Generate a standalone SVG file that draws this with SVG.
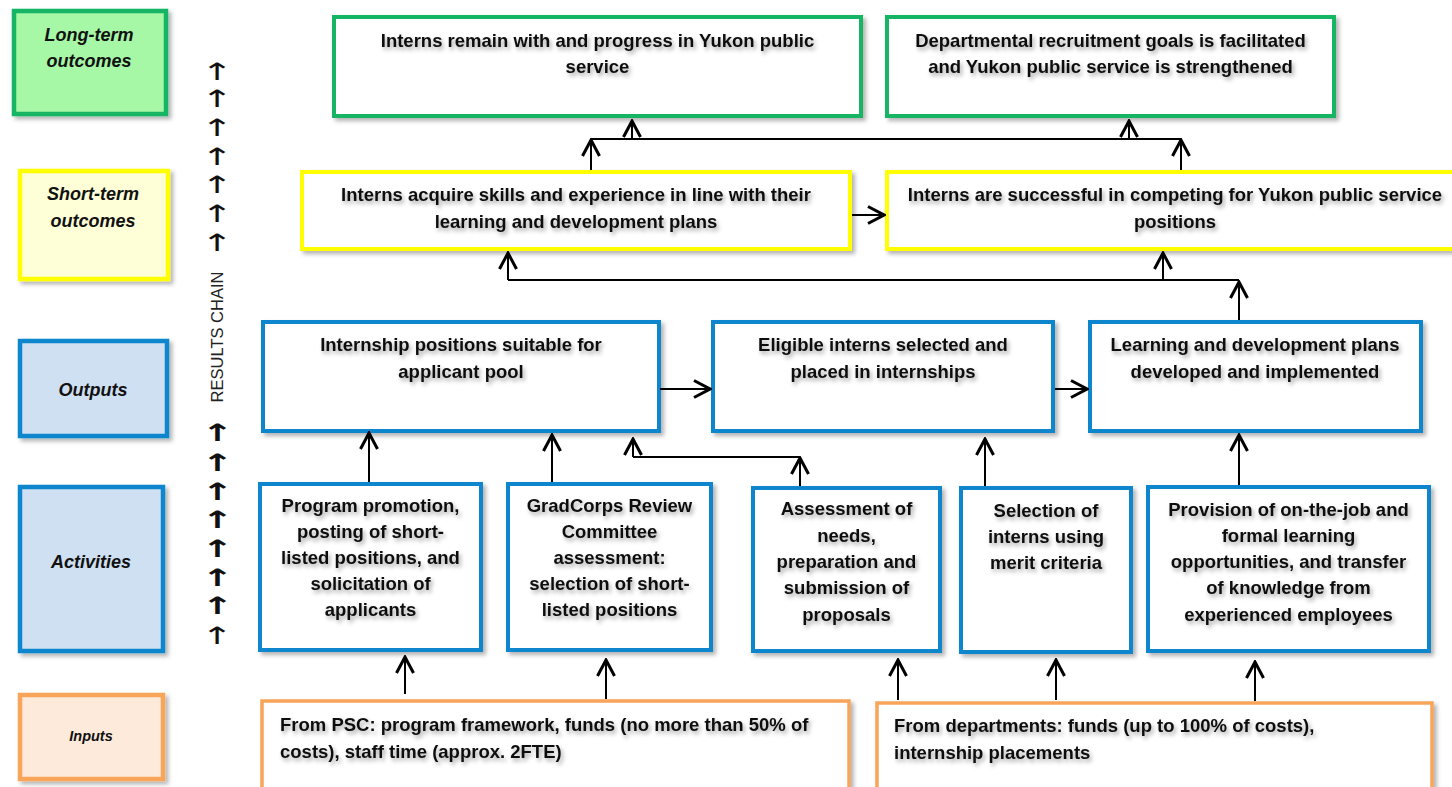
<svg xmlns="http://www.w3.org/2000/svg" width="1452" height="787" viewBox="0 0 1452 787">
<style>
.box{fill:#fff;stroke-width:4}
.g{stroke:#12b563}.y{stroke:#ffff00}.b{stroke:#0a86cd}.o{stroke:#f8a55a;stroke-width:3.5}
.t{font-family:"Liberation Sans",Arial,sans-serif;font-weight:bold;font-size:18.5px;fill:#111;text-anchor:middle}
.ts{filter:url(#tsh)}
.lbl{font-family:"Liberation Sans",Arial,sans-serif;font-weight:bold;font-style:italic;font-size:18px;fill:#111;text-anchor:middle}
.up{font-family:"DejaVu Sans",sans-serif;font-size:24px;fill:#111;text-anchor:middle}
.upb{font-weight:bold}
.c{fill:none;stroke:#000;stroke-width:2}
</style>
<defs>
<filter id="sh" x="-5%" y="-5%" width="115%" height="120%">
<feDropShadow dx="3" dy="3" stdDeviation="2" flood-color="#000" flood-opacity="0.3"/>
</filter>
<filter id="tsh" x="-5%" y="-20%" width="115%" height="150%">
<feDropShadow dx="2" dy="3" stdDeviation="2" flood-color="#000" flood-opacity="0.35"/>
</filter>
<marker id="ah" viewBox="0 0 20 20" refX="18" refY="10" markerWidth="20" markerHeight="20" markerUnits="userSpaceOnUse" orient="auto">
<path d="M2,1.5 L18,10 L2,18.5" fill="none" stroke="#000" stroke-width="3"/>
</marker>
</defs>
<rect width="1452" height="787" fill="#fff"/>

<g id="label-long">
<rect x="14" y="11" width="152" height="103" fill="#a6f7a6" stroke="#12b563" stroke-width="4.5" filter="url(#sh)"/>
<text class="lbl" x="89" y="41">Long-term</text>
<text class="lbl" x="89" y="67">outcomes</text>
</g>
<g id="label-short">
<rect x="20" y="171" width="148" height="108" fill="#ffffd7" stroke="#ffff00" stroke-width="4.5" filter="url(#sh)"/>
<text class="lbl" x="93" y="200">Short-term</text>
<text class="lbl" x="93" y="227">outcomes</text>
</g>
<g id="label-outputs">
<rect x="20" y="341" width="147" height="95" fill="#cfe0f2" stroke="#0a86cd" stroke-width="4.5" filter="url(#sh)"/>
<text class="lbl" x="93" y="396">Outputs</text>
</g>
<g id="label-activities">
<rect x="20" y="487" width="143" height="164" fill="#cfe0f2" stroke="#0a86cd" stroke-width="4.5" filter="url(#sh)"/>
<text class="lbl" x="91" y="568">Activities</text>
</g>
<g id="label-inputs">
<rect x="20" y="695" width="143" height="84" fill="#fdeadb" stroke="#f8a55a" stroke-width="4.5" filter="url(#sh)"/>
<text class="lbl" x="91" y="741" style="font-size:14.5px">Inputs</text>
</g>

<g id="results-chain">
<text class="up" transform="translate(217,80) scale(1.6,1)">↑</text>
<text class="up" transform="translate(217,107) scale(1.6,1)">↑</text>
<text class="up" transform="translate(217,136) scale(1.6,1)">↑</text>
<text class="up" transform="translate(217,165) scale(1.6,1)">↑</text>
<text class="up" transform="translate(217,193) scale(1.6,1)">↑</text>
<text class="up" transform="translate(217,222) scale(1.6,1)">↑</text>
<text class="up" transform="translate(217,251) scale(1.6,1)">↑</text>
<text transform="translate(223,337) rotate(-90)" style="font-family:'Liberation Sans',Arial,sans-serif;font-size:16.5px;fill:#222;text-anchor:middle">RESULTS CHAIN</text>
<text class="up upb" transform="translate(217,441) scale(1.6,1)">↑</text>
<text class="up upb" transform="translate(217,471) scale(1.6,1)">↑</text>
<text class="up upb" transform="translate(217,500) scale(1.6,1)">↑</text>
<text class="up upb" transform="translate(217,528) scale(1.6,1)">↑</text>
<text class="up upb" transform="translate(217,557) scale(1.6,1)">↑</text>
<text class="up upb" transform="translate(217,586) scale(1.6,1)">↑</text>
<text class="up upb" transform="translate(217,614) scale(1.6,1)">↑</text>
<text class="up" transform="translate(217,644) scale(1.6,1)">↑</text>
</g>

<g id="lt1">
<rect class="box g" x="334" y="17" width="527" height="99" filter="url(#sh)"/>
<g class="ts"><text class="t" x="597.5" y="47">Interns remain with and progress in Yukon public</text>
<text class="t" x="597.5" y="73">service</text></g>
</g>
<g id="lt2">
<rect class="box g" x="887" y="17" width="447" height="99" filter="url(#sh)"/>
<g class="ts"><text class="t" x="1110.5" y="47">Departmental recruitment goals is facilitated</text>
<text class="t" x="1110.5" y="73">and Yukon public service is strengthened</text></g>
</g>
<g id="st1">
<rect class="box y" x="302" y="172" width="548" height="77" filter="url(#sh)"/>
<g class="ts"><text class="t" x="576" y="201">Interns acquire skills and experience in line with their</text>
<text class="t" x="576" y="228">learning and development plans</text></g>
</g>
<g id="st2">
<rect class="box y" x="887" y="172" width="576" height="77" filter="url(#sh)"/>
<g class="ts"><text class="t" x="1175" y="201">Interns are successful in competing for Yukon public service</text>
<text class="t" x="1175" y="228">positions</text></g>
</g>
<g id="out1">
<rect class="box b" x="263" y="322" width="396" height="109" filter="url(#sh)"/>
<g class="ts"><text class="t" x="461" y="351">Internship positions suitable for</text>
<text class="t" x="461" y="378">applicant pool</text></g>
</g>
<g id="out2">
<rect class="box b" x="713" y="322" width="340" height="109" filter="url(#sh)"/>
<g class="ts"><text class="t" x="883" y="351">Eligible interns selected and</text>
<text class="t" x="883" y="378">placed in internships</text></g>
</g>
<g id="out3">
<rect class="box b" x="1090" y="322" width="331" height="109" filter="url(#sh)"/>
<g class="ts"><text class="t" x="1255" y="351">Learning and development plans</text>
<text class="t" x="1255" y="378">developed and implemented</text></g>
</g>
<g id="act1">
<rect class="box b" x="260" y="484" width="221" height="166" filter="url(#sh)"/>
<g class="ts"><text class="t" x="370.5" y="512">Program promotion,</text>
<text class="t" x="370.5" y="538">posting of short-</text>
<text class="t" x="370.5" y="564">listed positions, and</text>
<text class="t" x="370.5" y="590">solicitation of</text>
<text class="t" x="370.5" y="616">applicants</text></g>
</g>
<g id="act2">
<rect class="box b" x="508" y="484" width="203" height="166" filter="url(#sh)"/>
<g class="ts"><text class="t" x="609.5" y="512">GradCorps Review</text>
<text class="t" x="609.5" y="538">Committee</text>
<text class="t" x="609.5" y="564">assessment:</text>
<text class="t" x="609.5" y="590">selection of short-</text>
<text class="t" x="609.5" y="616">listed positions</text></g>
</g>
<g id="act3">
<rect class="box b" x="753" y="488" width="187" height="163" filter="url(#sh)"/>
<g class="ts"><text class="t" x="846.5" y="515">Assessment of</text>
<text class="t" x="846.5" y="542">needs,</text>
<text class="t" x="846.5" y="568">preparation and</text>
<text class="t" x="846.5" y="594">submission of</text>
<text class="t" x="846.5" y="621">proposals</text></g>
</g>
<g id="act4">
<rect class="box b" x="961" y="488" width="170" height="164" filter="url(#sh)"/>
<g class="ts"><text class="t" x="1046" y="517">Selection of</text>
<text class="t" x="1046" y="543">interns using</text>
<text class="t" x="1046" y="569">merit criteria</text></g>
</g>
<g id="act5">
<rect class="box b" x="1148" y="487" width="281" height="164" filter="url(#sh)"/>
<g class="ts"><text class="t" x="1288.5" y="516">Provision of on-the-job and</text>
<text class="t" x="1288.5" y="542">formal learning</text>
<text class="t" x="1288.5" y="568">opportunities, and transfer</text>
<text class="t" x="1288.5" y="594">of knowledge from</text>
<text class="t" x="1288.5" y="621">experienced employees</text></g>
</g>
<g id="in1">
<rect class="box o" x="262" y="701" width="587" height="95" filter="url(#sh)"/>
<g class="ts"><text class="t" x="280" y="731" style="text-anchor:start">From PSC: program framework, funds (no more than 50% of</text>
<text class="t" x="280" y="758" style="text-anchor:start">costs), staff time (approx. 2FTE)</text></g>
</g>
<g id="in2">
<rect class="box o" x="877" y="703" width="555" height="95" filter="url(#sh)"/>
<g class="ts"><text class="t" x="894" y="732" style="text-anchor:start">From departments: funds (up to 100% of costs),</text>
<text class="t" x="894" y="759" style="text-anchor:start">internship placements</text></g>
</g>

<g id="connectors">
<path class="c" d="M591,139 H1181"/>
<path class="c" d="M591,170 V140" marker-end="url(#ah)"/>
<path class="c" d="M1181,170 V140" marker-end="url(#ah)"/>
<path class="c" d="M632,139 V121" marker-end="url(#ah)"/>
<path class="c" d="M1129,139 V121" marker-end="url(#ah)"/>
<path class="c" d="M852,215 H884" marker-end="url(#ah)"/>
<path class="c" d="M508,280 H1239"/>
<path class="c" d="M508,280 V253" marker-end="url(#ah)"/>
<path class="c" d="M1163,280 V253" marker-end="url(#ah)"/>
<path class="c" d="M1239,320 V282" marker-end="url(#ah)"/>
<path class="c" d="M660,389 H710" marker-end="url(#ah)"/>
<path class="c" d="M1055,389 H1087" marker-end="url(#ah)"/>
<path class="c" d="M369,482 V433" marker-end="url(#ah)"/>
<path class="c" d="M552,482 V435" marker-end="url(#ah)"/>
<path class="c" d="M633,457 H800"/>
<path class="c" d="M800,486 V458" marker-end="url(#ah)"/>
<path class="c" d="M633,457 V439" marker-end="url(#ah)"/>
<path class="c" d="M985,486 V439" marker-end="url(#ah)"/>
<path class="c" d="M1239,485 V435" marker-end="url(#ah)"/>
<path class="c" d="M405,694 V657" marker-end="url(#ah)"/>
<path class="c" d="M606,699 V660" marker-end="url(#ah)"/>
<path class="c" d="M898,700 V660" marker-end="url(#ah)"/>
<path class="c" d="M1056,700 V660" marker-end="url(#ah)"/>
<path class="c" d="M1255,701 V662" marker-end="url(#ah)"/>
</g>
</svg>
